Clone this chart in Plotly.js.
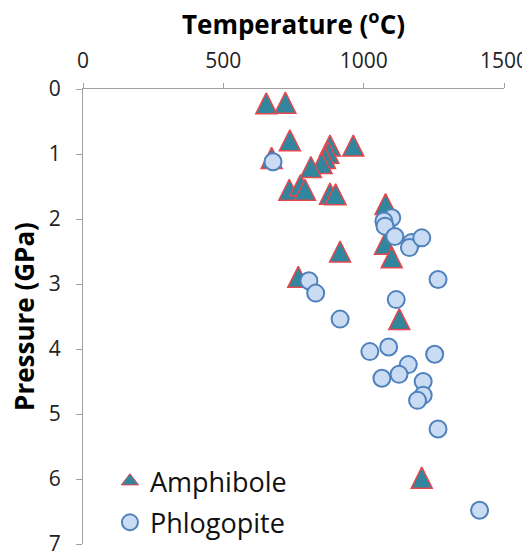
<!DOCTYPE html>
<html>
<head>
<meta charset="utf-8">
<script src="https://cdn.plot.ly/plotly-3.0.1.min.js"></script>
<style>html,body{margin:0;padding:0;background:#fff;}#chart{width:522px;height:556px;}</style>
</head>
<body>
<div id="chart"></div>
<script>
var amphiboleT = [653, 721, 737, 672, 880, 963, 874, 862, 850, 812, 735, 775, 791, 880, 900, 1078, 1076, 916, 1100, 767, 1127, 1207];
var amphiboleP = [0.22, 0.21, 0.79, 1.06, 0.87, 0.87, 0.98, 1.06, 1.14, 1.20, 1.55, 1.48, 1.55, 1.61, 1.62, 1.77, 2.38, 2.50, 2.59, 2.89, 3.54, 5.98];
var phlogopiteT = [677, 1100, 1072, 1076, 1111, 1171, 1163, 1207, 805, 829, 1265, 1116, 916, 1022, 1089, 1253, 1159, 1126, 1065, 1212, 1212, 1192, 1265, 1413];
var phlogopiteP = [1.12, 1.98, 2.03, 2.11, 2.27, 2.36, 2.44, 2.29, 2.95, 3.14, 2.93, 3.24, 3.54, 4.04, 3.97, 4.08, 4.24, 4.39, 4.45, 4.50, 4.71, 4.79, 5.23, 6.48];
var seriesNames = ["Amphibole", "Phlogopite"];
var xTicks = [0, 500, 1000, 1500];
var yTicks = [0, 1, 2, 3, 4, 5, 6, 7];

var triFill = "#31859c", triEdge = "#e5484d";
var traces = [
  {
    x: amphiboleT, y: amphiboleP, name: seriesNames[0], type: "scatter", mode: "markers",
    showlegend: false, legendgroup: "a",
    marker: {symbol: "arrow-down", angle: 180, standoff: 10.5, size: 21, color: triFill,
             line: {color: triEdge, width: 1.5}}
  },
  {
    /* legend entry only: no data drawn */
    x: [null], y: [null], name: seriesNames[0], type: "scatter", mode: "markers",
    legendgroup: "a",
    marker: {symbol: "triangle-up", size: 15, color: triFill,
             line: {color: triEdge, width: 1}}
  },
  {
    x: phlogopiteT, y: phlogopiteP, name: seriesNames[1], type: "scatter", mode: "markers",
    legendgroup: "p",
    marker: {symbol: "circle", size: 17, color: "#c9dcf3",
             line: {color: "#4f81bd", width: 2}}
  }
];

var layout = {
  width: 522, height: 556,
  margin: {l: 83, r: 18, t: 89, b: 9},
  paper_bgcolor: "#ffffff", plot_bgcolor: "#ffffff",
  font: {family: "Open Sans, sans-serif", color: "#222"},
  showlegend: true,
  legend: {x: 0.064, y: 0.191, xanchor: "left", yanchor: "top", bgcolor: "rgba(0,0,0,0)",
           tracegroupgap: 3, font: {size: 27, color: "#111"}},
  xaxis: {
    side: "top", range: [0, 1500], tickvals: xTicks, ticks: "outside", ticklen: 5,
    tickcolor: "#a0a0a0", linecolor: "#a0a0a0", linewidth: 1, showline: true,
    showgrid: false, zeroline: false, tickfont: {size: 21, color: "#222"},
    ticklabelstandoff: 7, ticklabeloverflow: "allow",
    title: {text: "Temperature (<sup>o</sup>C)", font: {size: 26, color: "#000", weight: "bold"}, standoff: 3}
  },
  yaxis: {
    range: [7, 0], tickvals: yTicks, ticks: "outside", ticklen: 6,
    tickcolor: "#a0a0a0", linecolor: "#a0a0a0", linewidth: 1, showline: true,
    showgrid: false, zeroline: false, tickfont: {size: 21, color: "#222"},
    ticklabelstandoff: 11, ticklabeloverflow: "allow",
    title: {text: "Pressure (GPa)", font: {size: 26, color: "#000", weight: "bold"}, standoff: 6}
  }
};

Plotly.newPlot("chart", traces, layout, {displayModeBar: false, staticPlot: true});
</script>
</body>
</html>
